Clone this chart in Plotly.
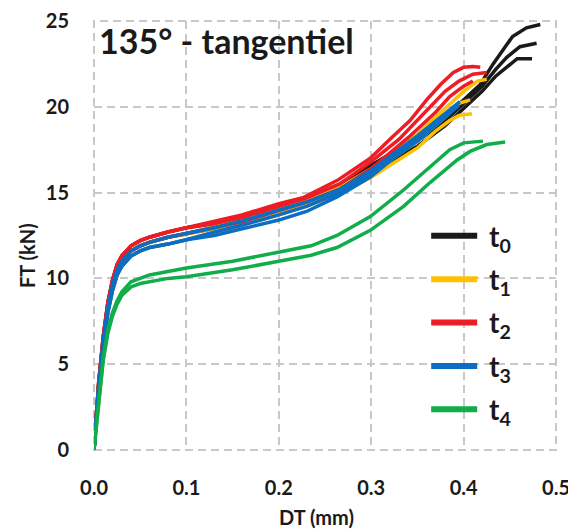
import plotly.graph_objects as go

# ---- data ----
start_x = [0, 0.002, 0.005, 0.01, 0.015, 0.02, 0.025, 0.03, 0.04, 0.05, 0.06, 0.08, 0.1]
start_A = [0, 1.6, 3.9, 6.6, 8.6, 9.9, 10.8, 11.3, 11.9, 12.2, 12.4, 12.7, 12.95]
start_B = [0, 1.5, 3.7, 6.4, 8.3, 9.6, 10.5, 11.0, 11.6, 11.9, 12.1, 12.4, 12.6]
start_C = [0, 1.4, 3.5, 6.1, 8.0, 9.3, 10.2, 10.7, 11.3, 11.6, 11.8, 12.0, 12.25]

t0_x1 = [0.13, 0.16, 0.2, 0.23, 0.266, 0.3, 0.35, 0.38, 0.40, 0.418, 0.432, 0.453, 0.468, 0.483]
t0_y1 = [13.2, 13.6, 14.2, 14.7, 15.5, 16.6, 18.2, 19.4, 20.4, 21.3, 22.5, 24.1, 24.6, 24.8]
t0_x2 = [0.13, 0.16, 0.2, 0.23, 0.266, 0.3, 0.35, 0.38, 0.40, 0.42, 0.435, 0.447, 0.461, 0.479]
t0_y2 = [13.0, 13.4, 14.0, 14.5, 15.3, 16.4, 18.0, 19.2, 20.2, 21.2, 22.2, 22.9, 23.5, 23.7]
t0_x3 = [0.13, 0.16, 0.2, 0.23, 0.266, 0.3, 0.35, 0.38, 0.40, 0.42, 0.435, 0.447, 0.458, 0.474]
t0_y3 = [12.9, 13.3, 13.9, 14.4, 15.1, 16.2, 17.7, 18.9, 19.9, 20.9, 21.8, 22.3, 22.8, 22.8]

t1_x1 = [0.13, 0.16, 0.2, 0.23, 0.266, 0.3, 0.35, 0.38, 0.40, 0.415, 0.425]
t1_y1 = [13.0, 13.4, 14.0, 14.5, 15.3, 16.4, 18.4, 19.9, 20.9, 21.5, 21.6]
t1_x2 = [0.13, 0.16, 0.2, 0.23, 0.266, 0.3, 0.35, 0.38, 0.395, 0.407]
t1_y2 = [12.9, 13.3, 13.85, 14.3, 15.1, 16.1, 18.0, 19.4, 20.2, 20.4]
t1_x3 = [0.13, 0.16, 0.2, 0.23, 0.266, 0.3, 0.35, 0.37, 0.385, 0.395, 0.409]
t1_y3 = [12.7, 13.1, 13.7, 14.2, 14.95, 15.9, 17.6, 18.6, 19.2, 19.5, 19.6]

t2_x1 = [0.13, 0.16, 0.2, 0.226, 0.263, 0.299, 0.32, 0.342, 0.36, 0.375, 0.389, 0.40, 0.41, 0.418]
t2_y1 = [13.3, 13.7, 14.35, 14.7, 15.7, 17.0, 18.1, 19.2, 20.4, 21.3, 22.0, 22.3, 22.35, 22.3]
t2_x2 = [0.13, 0.16, 0.2, 0.23, 0.266, 0.3, 0.33, 0.36, 0.38, 0.395, 0.41, 0.425]
t2_y2 = [13.2, 13.55, 14.2, 14.7, 15.5, 16.8, 18.1, 19.8, 20.9, 21.5, 21.9, 22.0]
t2_x3 = [0.13, 0.16, 0.2, 0.23, 0.266, 0.3, 0.34, 0.37, 0.385, 0.40, 0.41]
t2_y3 = [12.95, 13.3, 13.95, 14.45, 15.2, 16.4, 18.2, 19.7, 20.6, 21.2, 21.5]

t3_x1 = [0.13, 0.16, 0.2, 0.23, 0.266, 0.3, 0.35, 0.38, 0.396]
t3_y1 = [12.95, 13.35, 13.95, 14.45, 15.2, 16.3, 18.3, 19.6, 20.3]
t3_x2 = [0.13, 0.16, 0.2, 0.23, 0.266, 0.3, 0.35, 0.38, 0.395]
t3_y2 = [12.7, 13.1, 13.7, 14.2, 15.0, 16.1, 18.0, 19.4, 20.1]
t3_x3 = [0.13, 0.16, 0.2, 0.23, 0.263, 0.299, 0.335, 0.364, 0.39]
t3_y3 = [12.5, 12.9, 13.4, 13.9, 14.75, 15.9, 17.5, 18.8, 19.9]

t4_x1 = [0, 0.003, 0.006, 0.01, 0.015, 0.02, 0.025, 0.03, 0.04, 0.05, 0.06, 0.08, 0.1,
         0.15, 0.2, 0.235, 0.263, 0.299, 0.335, 0.364, 0.385, 0.40, 0.41, 0.421]
t4_y1 = [0, 1.5, 3.4, 5.4, 7.0, 8.0, 8.7, 9.2, 9.8, 10.0, 10.2, 10.4, 10.6,
         11.0, 11.5, 11.9, 12.5, 13.6, 15.15, 16.5, 17.5, 17.9, 17.97, 18.0]
t4_x2 = [0, 0.003, 0.006, 0.01, 0.015, 0.02, 0.025, 0.03, 0.04, 0.05, 0.06, 0.08, 0.1,
         0.15, 0.2, 0.235, 0.263, 0.299, 0.335, 0.364, 0.393, 0.407, 0.425, 0.435, 0.445]
t4_y2 = [0, 1.4, 3.2, 5.2, 6.8, 7.8, 8.5, 9.0, 9.5, 9.7, 9.8, 10.0, 10.1,
         10.5, 11.0, 11.35, 11.8, 12.8, 14.2, 15.6, 16.9, 17.4, 17.8, 17.9, 17.95]

series_names = ["t<sub>0</sub>", "t<sub>1</sub>", "t<sub>2</sub>", "t<sub>3</sub>", "t<sub>4</sub>"]
series_colors = ["#1a1a1a", "#FFC000", "#EE1C25", "#0B6EC2", "#11AD4B"]

x_ticks = [0.0, 0.1, 0.2, 0.3, 0.4, 0.5]
y_ticks = [0, 5, 10, 15, 20, 25]
title_text = "135° - tangentiel"
x_title = "DT (mm)"
y_title = "FT (kN)"

curves = [
    (0, [(start_x + t0_x1, start_A + t0_y1), (start_x + t0_x2, start_B + t0_y2), (start_x + t0_x3, start_B + t0_y3)]),
    (1, [(start_x + t1_x1, start_B + t1_y1), (start_x + t1_x2, start_B + t1_y2), (start_x + t1_x3, start_C + t1_y3)]),
    (2, [(start_x + t2_x1, start_A + t2_y1), (start_x + t2_x2, start_A + t2_y2), (start_x + t2_x3, start_B + t2_y3)]),
    (3, [(start_x + t3_x1, start_B + t3_y1), (start_x + t3_x2, start_C + t3_y2), (start_x + t3_x3, start_C + t3_y3)]),
    (4, [(t4_x1, t4_y1), (t4_x2, t4_y2)]),
]

FONT = "Lato"
INK = "#1a1a1a"
GRID = "#c8c8c8"
fig = go.Figure()
for idx, lst in curves:
    for k, (xs, ys) in enumerate(lst):
        fig.add_trace(go.Scatter(
            x=xs, y=ys, mode="lines", name=series_names[idx],
            legendgroup=series_names[idx], showlegend=False,
            line=dict(color=series_colors[idx], width=3.5),
        ))
# legend entries (thicker swatches, like the reference)
for idx, nm in enumerate(series_names):
    fig.add_trace(go.Scatter(
        x=[None], y=[None], mode="lines", name="&nbsp;" + nm, legendgroup=nm,
        showlegend=True, line=dict(color=series_colors[idx], width=6),
    ))

axis_common = dict(
    showgrid=True, griddash="8px,5px", gridcolor=GRID, gridwidth=2,
    zeroline=False, showline=False, ticks="", automargin=False,
    tickfont=dict(family=FONT, size=20, color=INK, weight="bold"),
)
# the page body has an 8px default margin: figure is 568x522 so the plot area
# lands at x 94..556, y 21..450 in the 576x530 window
fig.update_layout(
    width=568, height=522,
    margin=dict(l=86, r=20, t=13, b=80),
    paper_bgcolor="white", plot_bgcolor="white",
    xaxis=dict(range=[0, 0.5], tickvals=x_ticks, ticktext=[f"{v:.1f}" for v in x_ticks],
               ticklabelstandoff=24, **axis_common),
    yaxis=dict(range=[0, 25], tickvals=y_ticks, ticktext=[str(v) for v in y_ticks],
               ticklabelstandoff=24, **axis_common),
    legend=dict(x=0.719, y=0.557, xanchor="left", yanchor="top",
                bgcolor="rgba(0,0,0,0)", itemwidth=46, tracegroupgap=4,
                font=dict(family=FONT, size=28, color=INK, weight="bold")),
    showlegend=True,
)
# dashed frame around the plot area (the grid lines at the range edges)
fig.add_shape(type="rect", xref="paper", yref="paper", x0=0, y0=0, x1=1, y1=1,
              line=dict(color=GRID, width=2, dash="8px,5px"), layer="below")
fig.add_annotation(text=title_text, xref="paper", yref="paper", x=0.006, y=(450 - 40) / 429,
                   xanchor="left", yanchor="middle", showarrow=False,
                   font=dict(family=FONT, size=34, color=INK, weight="bold"))
fig.add_annotation(text=x_title, xref="paper", yref="paper", x=(316 - 94) / 462, y=-(517 - 450) / 429,
                   xanchor="center", yanchor="middle", showarrow=False,
                   font=dict(family=FONT, size=20, color=INK, weight="bold"))
fig.add_annotation(text=y_title, xref="paper", yref="paper", x=-(94 - 27) / 462, y=(450 - 256) / 429,
                   xanchor="center", yanchor="middle", showarrow=False, textangle=-90,
                   font=dict(family=FONT, size=20, color=INK, weight="bold"))

fig.write_html("out.html")
